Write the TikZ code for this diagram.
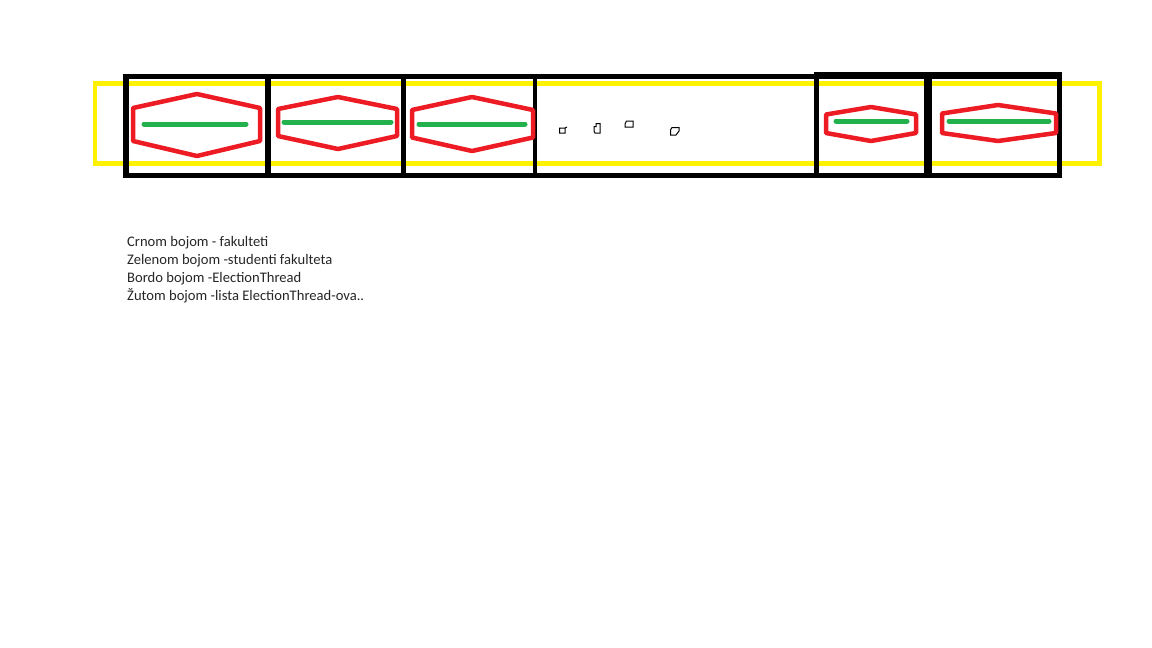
\documentclass[tikz,border=0pt]{standalone}
\usepackage{fontspec}
\setmainfont{Carlito}
\definecolor{paintred}{HTML}{ED1C24}
\definecolor{paintgreen}{HTML}{22B14C}
\definecolor{paintyellow}{HTML}{FFF200}
\tikzset{
  lista/.style={draw=paintyellow, line width=4.5pt},
  fakultet/.style={draw=black, line width=5pt},
  thread/.style={draw=paintred, line width=4.5pt, line join=round},
  studenti/.style={draw=paintgreen, line width=5pt, line cap=round},
  crtica/.style={draw=black, line width=1pt}
}
\begin{document}
\begin{tikzpicture}[x=1pt,y=-1pt]
\useasboundingbox (0,0) rectangle (1152,648);

\draw[lista] (95,83.5) rectangle (1099.5,163.5);

\draw[fakultet] (123.5,76) -- (818,76);
\draw[fakultet, line width=7pt] (813.5,75.5) -- (1061.5,75.5);
\draw[fakultet] (123.5,175) -- (1061.5,175);
\foreach \x/\w in {126/6, 268/6.5, 403/5, 535/4, 816/5, 928/7.5, 1059/5}
{
    \draw[fakultet, line width=\w pt] (\x,73.5) -- (\x,177.5);
}

\foreach \l/\m/\r/\t/\u/\v/\b in {133/197/260/94/108/141/156, 278/338/397/97/109/136/149,
    412/472/533/97/110/137.5/151, 826/871/916/107/114.5/133/141, 942/998/1056/105/113.5/133/141}
{
    \draw[thread] (\l,\u) -- (\m,\t) -- (\r,\u) -- (\r,\v) -- (\m,\b) -- (\l,\v) -- cycle;
}

\foreach \a/\b/\y in {144/246/124, 284/391/122, 419/525/124, 836/907/121, 949/1049/121}
{
    \draw[studenti] (\a,\y) -- (\b,\y);
}

\draw[crtica] (559.5,128) -- (565,128) -- (565,133) -- (559.5,133) -- cycle (565,128) -- (567,127);
\draw[crtica] (596,123.5) -- (600,123.5) -- (600,133) -- (595,133) -- (594,131) -- (594,126.5) -- (596,126.5) -- cycle;
\draw[crtica] (626.5,121) -- (633,121) -- (633,127) -- (625,127) -- (625,124) -- cycle;
\draw[crtica] (672,127.5) -- (679,127.5) -- (679,131) -- (676,135) -- (670.5,135) -- (670.5,130) -- cycle;

\node[anchor=base west, inner sep=0pt, align=left, text=black!85,
      font=\fontsize{14.6}{18}\selectfont] (legenda) at (127,300.5)
  {Crnom bojom - fakulteti\\Zelenom bojom -studenti fakulteta\\Bordo bojom -ElectionThread\\Žutom bojom -lista ElectionThread-ova..};
\end{tikzpicture}
\end{document}
